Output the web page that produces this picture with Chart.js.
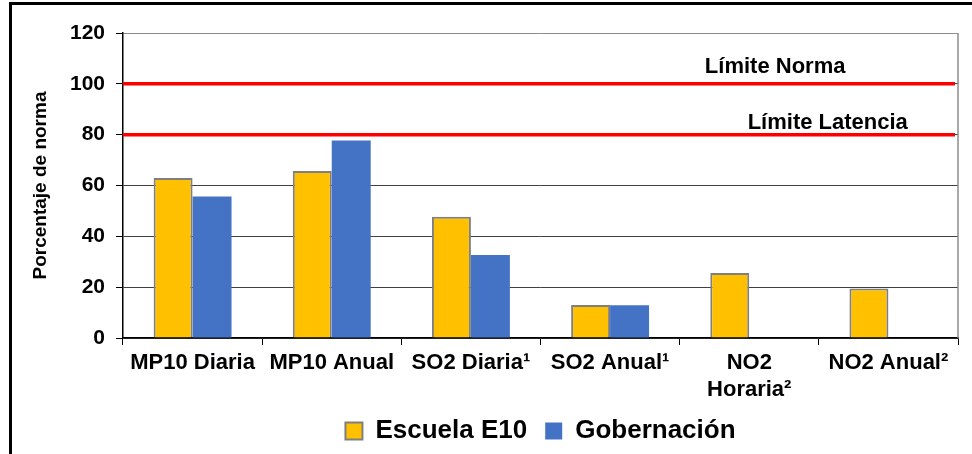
<!DOCTYPE html>
<html>
<head>
<meta charset="utf-8">
<title>Porcentaje de norma</title>
<script src="https://cdn.jsdelivr.net/npm/chart.js@4.4.0/dist/chart.umd.min.js"></script>
<style>
  html, body { margin: 0; padding: 0; background: #fff; }
  #wrap { width: 972px; height: 454px; }
</style>
</head>
<body>
<div id="wrap"><canvas id="chart"></canvas></div>
<script>
const categories = ["MP10 Diaria", "MP10 Anual", "SO2 Diaria¹", "SO2 Anual¹", ["NO2", "Horaria²"], "NO2 Anual²"];
const escuelaE10 = [63, 65.7, 47.7, 13, 25.6, 19.5];
const gobernacion = [55.7, 77.7, 32.7, 12.9, null, null];
const limitValues = [100, 80];
const limitLabels = ["Límite Norma", "Límite Latencia"];
const yMin = 0, yMax = 120, yStep = 20;

const FONT = "'Liberation Sans', Arial, sans-serif";
Chart.defaults.font.family = FONT;
Chart.defaults.color = "#000";

// outer frame, plot border and the two limit lines with their labels
const limitsPlugin = {
  id: "limits",
  beforeDraw(chart) {
    const ctx = chart.ctx;
    ctx.save();
    ctx.strokeStyle = "#000";
    ctx.lineWidth = 3;
    ctx.beginPath();
    ctx.moveTo(10.5, chart.height);
    ctx.lineTo(10.5, 3.5);
    ctx.lineTo(chart.width, 3.5);
    ctx.stroke();
    ctx.restore();
  },
  afterDatasetsDraw(chart) {
    const { ctx, chartArea, scales } = chart;
    ctx.save();
    ctx.strokeStyle = "#8c8c8c";
    ctx.lineWidth = 1.5;
    ctx.beginPath();
    ctx.moveTo(chartArea.right, chartArea.top);
    ctx.lineTo(chartArea.right, chartArea.bottom);
    ctx.stroke();

    // label anchor: fraction of plot width, gap above the line
    const labelPos = [{ fx: 0.781, dy: 11 }, { fx: 0.844, dy: 6 }];
    ctx.font = "bold 22px " + FONT;
    ctx.textAlign = "center";
    ctx.textBaseline = "alphabetic";
    ctx.fillStyle = "#000";
    limitValues.forEach((v, i) => {
      const y = scales.y.getPixelForValue(v);
      ctx.strokeStyle = "#ff0000";
      ctx.lineWidth = 3.5;
      ctx.beginPath();
      ctx.moveTo(chartArea.left, y);
      ctx.lineTo(chartArea.right - 3, y);
      ctx.stroke();
      const x = chartArea.left + labelPos[i].fx * chartArea.width;
      ctx.fillText(limitLabels[i], x, y - labelPos[i].dy);
    });
    ctx.restore();
  }
};

new Chart(document.getElementById("chart"), {
  type: "bar",
  data: {
    labels: categories,
    datasets: [
      {
        label: "Escuela E10",
        data: escuelaE10,
        backgroundColor: "#ffc000",
        borderColor: "#7f7f7f",
        borderWidth: 2
      },
      {
        label: "Gobernación",
        data: gobernacion,
        backgroundColor: "#4472c4",
        borderWidth: 0
      }
    ]
  },
  options: {
    responsive: true,
    maintainAspectRatio: false,
    animation: false,
    datasets: {
      bar: { categoryPercentage: 0.56, barPercentage: 1 }
    },
    layout: { padding: { top: 33, right: 14, left: 0, bottom: 0 } },
    plugins: {
      tooltip: { enabled: false },
      legend: {
        position: "bottom",
        fullSize: false,
        maxHeight: 55,
        labels: {
          boxWidth: 17,
          boxHeight: 17,
          padding: 18,
          color: "#000",
          font: { size: 26, weight: "bold" }
        }
      }
    },
    scales: {
      x: {
        afterFit(scale) { scale.height = 62; },
        grid: {
          offset: true,
          drawOnChartArea: false,
          drawTicks: true,
          tickLength: 7,
          color: "#000"
        },
        border: { color: "#000", width: 1.5 },
        ticks: {
          padding: 5,
          maxRotation: 0,
          autoSkip: false,
          font: { size: 22, weight: "bold", lineHeight: 1.2 }
        }
      },
      y: {
        min: yMin,
        max: yMax,
        afterFit(scale) { scale.width = 123; },
        grid: {
          tickLength: 7,
          lineWidth: 1,
          color: (c) => (c.tick && c.tick.value === yMax ? "#8c8c8c" : "#404040"),
          tickColor: "#000"
        },
        border: { color: "#000", width: 1.5 },
        ticks: {
          stepSize: yStep,
          padding: 11,
          font: { size: 21, weight: "bold" }
        },
        title: {
          display: true,
          text: "Porcentaje de norma",
          padding: { top: 29, bottom: 0 },
          font: { size: 19, weight: "bold" }
        }
      }
    }
  },
  plugins: [limitsPlugin]
});
</script>
</body>
</html>
